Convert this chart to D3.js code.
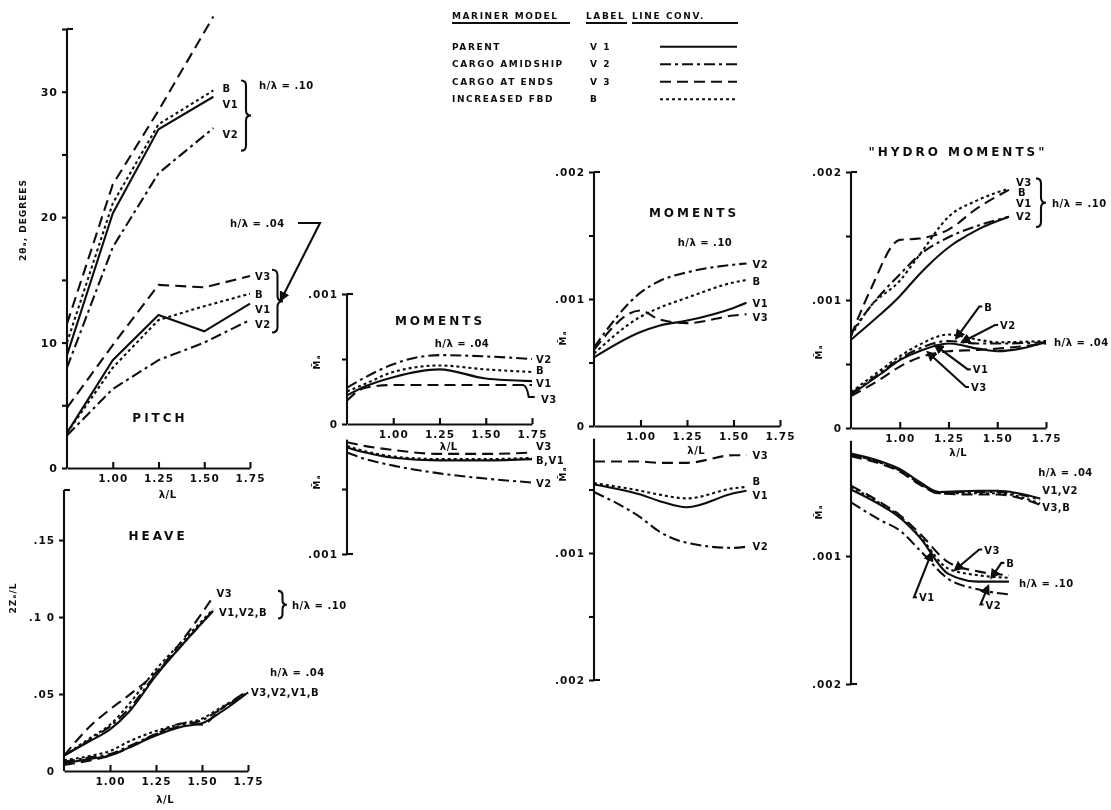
<!DOCTYPE html>
<html>
<head>
<meta charset="utf-8">
<title>Mariner model - pitch, heave and moments</title>
<script src="https://d3js.org/d3.v7.min.js"></script>
<style>
  body { margin: 0; background: #fff; }
  svg text { font-family: "DejaVu Sans", sans-serif; font-weight: bold; fill: #111; }
  .tick text { font-size: 10.5px; letter-spacing: 1px; }
  .ax path, .ax line, .lead { stroke: #111; stroke-width: 2.1; fill: none; }
  .ln { fill: none; stroke: #111; stroke-width: 2.1; }
  .lbl { font-size: 10px; letter-spacing: 0.5px; }
  .ttl { font-size: 12px; letter-spacing: 3px; }
  .leg { font-size: 9px; letter-spacing: 1.6px; }
</style>
</head>
<body>
<svg id="chart" width="1111" height="810">
  <defs>
    <filter id="scan"><feGaussianBlur stdDeviation="0.45"></feGaussianBlur></filter>
    <marker id="arrow" viewBox="0 0 8 8" refX="1" refY="4" markerWidth="5" markerHeight="5" orient="auto-start-reverse">
      <path d="M0,0 L8,4 L0,8 z" fill="#111"></path>
    </marker>
  </defs>
</svg>
<script>
// ---- data ----
const models = ["V1", "V2", "V3", "B"];
const legendNames = ["PARENT", "CARGO AMIDSHIP", "CARGO AT ENDS", "INCREASED FBD"];
const legendLabels = ["V 1", "V 2", "V 3", "B"];
const xTicks = [1.00, 1.25, 1.50, 1.75];

// pitch, 2θa in degrees
const pitchLam10 = [0.75, 1.00, 1.25, 1.55];
const pitch10 = { V1: [9.0, 20.3, 27.0, 29.6], V2: [8.0, 17.6, 23.5, 27.1], V3: [11.5, 22.6, 28.5, 36.0], B: [10.0, 21.1, 27.4, 30.1] };
const pitchLam04 = [0.75, 1.00, 1.25, 1.50, 1.75];
const pitch04 = { V1: [2.8, 8.6, 12.2, 10.9, 13.1], V2: [2.6, 6.3, 8.6, 10.0, 11.8], V3: [4.8, 9.8, 14.6, 14.4, 15.3], B: [2.8, 8.0, 11.8, 12.9, 13.9] };

// heave, 2Za/L
const heaveLam10 = [0.75, 0.90, 1.00, 1.10, 1.25, 1.40, 1.56];
const heave10 = {
  V1: [0.010, 0.020, 0.027, 0.038, 0.062, 0.083, 0.104],
  V2: [0.010, 0.021, 0.029, 0.040, 0.063, 0.083, 0.104],
  V3: [0.010, 0.030, 0.040, 0.049, 0.064, 0.086, 0.113],
  B:  [0.010, 0.022, 0.030, 0.043, 0.066, 0.085, 0.105]
};
const heaveLam04 = [0.75, 0.90, 1.00, 1.10, 1.25, 1.40, 1.50, 1.60, 1.75];
const heave04 = {
  V1: [0.005, 0.008, 0.010, 0.015, 0.023, 0.029, 0.031, 0.038, 0.051],
  V2: [0.006, 0.009, 0.011, 0.016, 0.024, 0.030, 0.033, 0.040, 0.051],
  V3: [0.004, 0.007, 0.010, 0.015, 0.024, 0.031, 0.030, 0.040, 0.052],
  B:  [0.007, 0.010, 0.013, 0.019, 0.026, 0.031, 0.034, 0.041, 0.051]
};

// moments, h/λ = .04 (upper and lower halves)
const mom04Lam = [0.75, 0.85, 1.00, 1.25, 1.50, 1.75];
const mom04Up = {
  V1: [.00022, .00029, .00036, .00042, .00035, .00033],
  V2: [.00028, .00036, .00046, .00053, .00052, .00050],
  V3: [.00018, .00028, .00030, .00030, .00030, .00030],
  B:  [.00025, .00031, .00040, .00045, .00042, .00040]
};
const mom04Dn = {
  V1: [.00018, .00022, .00026, .00028, .00028, .00027],
  V2: [.00022, .00027, .00032, .00038, .00042, .00045],
  V3: [.00014, .00017, .00020, .00023, .00023, .00022],
  B:  [.00017, .00021, .00025, .00027, .00027, .00026]
};

// moments, h/λ = .10
const mom10Lam = [0.75, 1.00, 1.10, 1.25, 1.50, 1.57];
const mom10Up = {
  V1: [.00054, .00074, .00079, .00083, .00093, .00097],
  V2: [.00062, .00105, .00114, .00121, .00127, .00128],
  V3: [.00060, .00091, .00084, .00081, .00087, .00088],
  B:  [.00057, .00086, .00093, .00101, .00113, .00115]
};
const mom10Dn = {
  V1: [.00046, .00054, .00059, .00064, .00053, .00051],
  V2: [.00052, .00072, .00083, .00092, .00096, .00095],
  V3: [.00028, .00028, .00029, .00029, .00023, .00023],
  B:  [.00045, .00051, .00054, .00057, .00049, .00048]
};

// "hydro moments"
const hydro10Lam = [0.75, 0.85, 1.00, 1.10, 1.25, 1.40, 1.56];
const hydro10Up = {
  V1: [.00069, .00082, .00103, .00120, .00141, .00155, .00165],
  V2: [.00074, .00095, .00120, .00135, .00149, .00158, .00165],
  V3: [.00072, .00108, .00147, .00148, .00155, .00172, .00186],
  B:  [.00072, .00095, .00115, .00135, .00165, .00178, .00187]
};
const hydro04Lam = [0.75, 0.90, 1.00, 1.10, 1.25, 1.40, 1.50, 1.75];
const hydro04Up = {
  V1: [.00026, .00042, .00053, .00060, .00066, .00062, .00060, .00067],
  V2: [.00027, .00043, .00054, .00062, .00068, .00066, .00066, .00067],
  V3: [.00025, .00038, .00048, .00055, .00060, .00061, .00062, .00066],
  B:  [.00028, .00045, .00056, .00065, .00073, .00069, .00067, .00068]
};
const hydro04DnLam = [0.75, 0.90, 1.00, 1.10, 1.20, 1.40, 1.50, 1.72];
const hydro04Dn = {
  V1: [.00020, .00026, .00032, .00042, .00050, .00049, .00049, .00055],
  V2: [.00021, .00027, .00033, .00043, .00050, .00050, .00050, .00056],
  V3: [.00022, .00028, .00034, .00044, .00051, .00052, .00052, .00060],
  B:  [.00021, .00027, .00033, .00043, .00051, .00051, .00051, .00059]
};
const hydro10DnLam = [0.75, 0.90, 1.00, 1.10, 1.25, 1.40, 1.56];
const hydro10Dn = {
  V1: [.00048, .00060, .00070, .00085, .00114, .00120, .00120],
  V2: [.00058, .00072, .00080, .00095, .00118, .00126, .00130],
  V3: [.00045, .00058, .00068, .00082, .00105, .00112, .00115],
  B:  [.00046, .00059, .00069, .00084, .00110, .00115, .00117]
};

// ---- drawing ----
const svg = d3.select("#chart");
const root = svg.append("g").attr("filter", "url(#scan)");
const dash = { V1: null, V2: "11,4,3,4", V3: "11,6", B: "3,3" };
const fmtX = d3.format(".2f");

function xAxis(x, y0, labelY) {
  const g = root.append("g").attr("class", "ax").attr("transform", `translate(0,${y0})`)
    .call(d3.axisBottom(x).tickValues(xTicks).tickSize(-6).tickSizeOuter(0).tickPadding(7).tickFormat(fmtX));
  root.append("text").attr("class", "lbl").attr("x", x(1.3)).attr("y", labelY)
    .attr("text-anchor", "middle").text("λ/L");
  return g;
}

function yAxis(y, x0, ticks, labels, from, cap) {
  const g = root.append("g").attr("class", "ax").attr("transform", `translate(${x0},0)`)
    .call(d3.axisLeft(y).tickValues(ticks).tickSize(5).tickPadding(4).tickFormat((d, i) => labels[i]));
  g.select(".domain").remove();
  g.append("line").attr("y1", y(from)).attr("y2", y(cap));
  g.append("line").attr("y1", y(cap)).attr("y2", y(cap)).attr("x2", 6);
  return g;
}

function series(x, y, lam, data, curve) {
  const line = d3.line().x((d, i) => x(lam[i])).y(d => y(d)).curve(curve || d3.curveMonotoneX);
  models.forEach(m => {
    root.append("path").attr("class", "ln").attr("stroke-dasharray", dash[m]).attr("d", line(data[m]));
  });
}

function label(x, y, l, v, dx, dy, t, cls) {
  root.append("text").attr("class", cls || "lbl").attr("x", x(l) + dx).attr("y", y(v) + dy).text(t);
}

function leader(x, y, l, v, dx, dy, t) {
  const ax = x(l), ay = y(v);
  root.append("path").attr("class", "lead").attr("stroke-width", 1.4)
    .attr("marker-start", "url(#arrow)")
    .attr("d", `M${ax + (dx > 0 ? 2 : -2)},${ay + (dy > 0 ? 2 : -2)} L${ax + dx - 3},${ay + dy - 4} h3`);
  root.append("text").attr("class", "lbl").attr("x", ax + dx + 2).attr("y", ay + dy).text(t);
}

function brace(x, y1, y2, w) {
  const m = (y1 + y2) / 2, h = w / 2;
  root.append("path").attr("class", "lead").attr("stroke-width", 1.7)
    .attr("d", `M${x},${y1} q${h},0 ${h},${h} V${m - h} q0,${h} ${h},${h} q${-h},0 ${-h},${h} V${y2 - h} q0,${h} ${-h},${h}`);
}

function rotLabel(x, y, t, size) {
  root.append("text").attr("transform", `translate(${x},${y}) rotate(-90)`)
    .attr("text-anchor", "middle").style("font-size", size + "px").style("letter-spacing", "1px").text(t);
}

// ---- PITCH ----
{
  const x = d3.scaleLinear([0.75, 1.75], [67, 250]);
  const y = d3.scaleLinear([0, 35], [468, 29]);
  yAxis(y, x(0.75), [0, 5, 10, 15, 20, 25, 30, 35], ["0", "", "10", "", "20", "", "30", ""], 0, 35)
    .selectAll(".tick text").style("font-size", "11px");
  xAxis(x, y(0), 498);
  series(x, y, pitchLam10, pitch10, d3.curveLinear);
  series(x, y, pitchLam04, pitch04, d3.curveLinear);
  rotLabel(26, 220, "2θₐ, DEGREES", 9);
  root.append("text").attr("class", "ttl").attr("x", 160).attr("y", 422).attr("text-anchor", "middle").text("PITCH");
  // h/λ = .10 labels
  label(x, y, 1.55, 30.1, 9, 2, "B");
  label(x, y, 1.55, 29.6, 9, 11, "V1");
  label(x, y, 1.55, 27.1, 9, 10, "V2");
  brace(241, y(30.9), y(25.3), 10);
  root.append("text").attr("class", "lbl").attr("x", 259).attr("y", y(30.2)).text("h/λ = .10");
  // h/λ = .04 labels
  label(x, y, 1.75, 15.3, 5, 4, "V3");
  label(x, y, 1.75, 13.9, 5, 4, "B");
  label(x, y, 1.75, 13.1, 5, 9, "V1");
  label(x, y, 1.75, 11.8, 5, 8, "V2");
  brace(272, y(15.8), y(10.8), 11);
  root.append("text").attr("class", "lbl").attr("x", 230).attr("y", 227).text("h/λ = .04");
  root.append("path").attr("class", "lead").attr("stroke-width", 1.4).attr("marker-end", "url(#arrow)")
    .attr("d", `M298,223 H320 L${284},${y(13.4) - 6}`);
}

// ---- HEAVE ----
{
  const x = d3.scaleLinear([0.75, 1.75], [64, 248]);
  const y = d3.scaleLinear([0, 0.1825], [771, 490]);
  yAxis(y, x(0.75), [0, 0.05, 0.10, 0.15], ["0", ".05", ".1 0", ".15"], 0, 0.1825)
    .call(g => g.select("line:last-of-type").remove());
  xAxis(x, y(0), 803);
  series(x, y, heaveLam10, heave10);
  series(x, y, heaveLam04, heave04);
  rotLabel(16, 598, "2Zₐ/L", 9);
  root.append("text").attr("class", "ttl").attr("x", 158).attr("y", 540).attr("text-anchor", "middle").text("HEAVE");
  label(x, y, 1.53, 0.113, 9, 0, "V3");
  label(x, y, 1.56, 0.104, 6, 5, "V1,V2,B");
  brace(278, y(0.117), y(0.099), 9);
  root.append("text").attr("class", "lbl").attr("x", 292).attr("y", y(0.108) + 4).text("h/λ = .10");
  label(x, y, 1.75, 0.051, 22, -16, "h/λ = .04");
  label(x, y, 1.75, 0.051, 3, 4, "V3,V2,V1,B");
}

// ---- MOMENTS h/λ = .04 ----
{
  const x = d3.scaleLinear([0.75, 1.75], [347, 532]);
  const yUp = d3.scaleLinear([0, 0.001], [424, 294]);
  const yDn = d3.scaleLinear([0, 0.001], [424, 554]);
  yAxis(yUp, x(0.75), [0, 0.0005, 0.001], ["0", "", ".001"], 0, 0.001);
  yAxis(yDn, x(0.75), [0.0005, 0.001], ["", ".001"], 0.00012, 0.001);
  xAxis(x, yUp(0), 450);
  series(x, yUp, mom04Lam, mom04Up);
  series(x, yDn, mom04Lam, mom04Dn);
  rotLabel(320, 362, "M̄ₐ", 9);
  rotLabel(320, 482, "M̄ₐ", 9);
  root.append("text").attr("class", "ttl").attr("x", 440).attr("y", 325).attr("text-anchor", "middle").text("MOMENTS");
  root.append("text").attr("class", "lbl").attr("x", 462).attr("y", 347).attr("text-anchor", "middle").text("h/λ = .04");
  label(x, yUp, 1.75, .00050, 4, 4, "V2");
  label(x, yUp, 1.75, .00040, 4, 2, "B");
  label(x, yUp, 1.75, .00033, 4, 6, "V1");
  label(x, yUp, 1.75, .00030, 9, 18, "V3");
  root.append("path").attr("class", "lead").attr("stroke-width", 1.5)
    .attr("d", `M${x(1.70)},${yUp(.0003)} q4,0 6,12 h6`);
  label(x, yDn, 1.75, .00022, 4, -3, "V3");
  label(x, yDn, 1.75, .00027, 4, 5, "B,V1");
  label(x, yDn, 1.75, .00045, 4, 4, "V2");
}

// ---- MOMENTS h/λ = .10 ----
{
  const x = d3.scaleLinear([0.75, 1.75], [594, 780]);
  const yUp = d3.scaleLinear([0, 0.002], [426, 172]);
  const yDn = d3.scaleLinear([0, 0.002], [426, 680]);
  yAxis(yUp, x(0.75), [0, 0.0005, 0.001, 0.0015, 0.002], ["0", "", ".001", "", ".002"], 0, 0.002);
  yAxis(yDn, x(0.75), [0.0005, 0.001, 0.0015, 0.002], ["", ".001", "", ".002"], 0.0001, 0.002);
  xAxis(x, yUp(0), 454);
  series(x, yUp, mom10Lam, mom10Up);
  series(x, yDn, mom10Lam, mom10Dn);
  rotLabel(566, 338, "M̄ₐ", 9);
  rotLabel(566, 474, "M̄ₐ", 9);
  root.append("text").attr("class", "ttl").attr("x", 694).attr("y", 217).attr("text-anchor", "middle").text("MOMENTS");
  root.append("text").attr("class", "lbl").attr("x", 705).attr("y", 246).attr("text-anchor", "middle").text("h/λ = .10");
  label(x, yUp, 1.57, .00128, 6, 5, "V2");
  label(x, yUp, 1.57, .00115, 6, 5, "B");
  label(x, yUp, 1.57, .00097, 6, 4, "V1");
  label(x, yUp, 1.57, .00088, 6, 7, "V3");
  label(x, yDn, 1.57, .00023, 6, 4, "V3");
  label(x, yDn, 1.57, .00048, 6, -2, "B");
  label(x, yDn, 1.57, .00051, 6, 8, "V1");
  label(x, yDn, 1.57, .00095, 6, 3, "V2");
}

// ---- "HYDRO MOMENTS" ----
{
  const x = d3.scaleLinear([0.75, 1.75], [851, 1046]);
  const yUp = d3.scaleLinear([0, 0.002], [428, 172]);
  const yDn = d3.scaleLinear([0, 0.002], [428, 684]);
  yAxis(yUp, x(0.75), [0, 0.0005, 0.001, 0.0015, 0.002], ["0", "", ".001", "", ".002"], 0, 0.002);
  yAxis(yDn, x(0.75), [0.001, 0.002], [".001", ".002"], 0.0001, 0.002);
  xAxis(x, yUp(0), 456);
  series(x, yUp, hydro10Lam, hydro10Up);
  series(x, yUp, hydro04Lam, hydro04Up);
  series(x, yDn, hydro04DnLam, hydro04Dn);
  series(x, yDn, hydro10DnLam, hydro10Dn);
  rotLabel(822, 352, "M̄ₐ", 9);
  rotLabel(822, 512, "M̄ₐ", 9);
  root.append("text").attr("class", "ttl").attr("x", 958).attr("y", 156).attr("text-anchor", "middle")
    .text("\"HYDRO MOMENTS\"");
  // h/λ = .10, upper (labels stacked as in the figure)
  label(x, yUp, 1.56, .00186, 7, -4, "V3");
  label(x, yUp, 1.56, .00187, 9, 7, "B");
  label(x, yUp, 1.56, .00165, 7, -10, "V1");
  label(x, yUp, 1.56, .00165, 7, 3, "V2");
  brace(1036, yUp(.00195), yUp(.00157), 10);
  root.append("text").attr("class", "lbl").attr("x", 1052).attr("y", yUp(.00176) + 4).text("h/λ = .10");
  // h/λ = .04, upper
  label(x, yUp, 1.75, .00067, 8, 4, "h/λ = .04");
  leader(x, yUp, 1.30, .00073, 24, -24, "B");
  leader(x, yUp, 1.34, .00068, 32, -12, "V2");
  leader(x, yUp, 1.20, .00063, 32, 26, "V1");
  leader(x, yUp, 1.16, .00057, 38, 36, "V3");
  // h/λ = .04, lower
  label(x, yDn, 1.72, .00055, -2, -22, "h/λ = .04");
  label(x, yDn, 1.72, .00055, 2, -4, "V1,V2");
  label(x, yDn, 1.72, .00060, 2, 6, "V3,B");
  // h/λ = .10, lower
  leader(x, yDn, 1.30, .00109, 24, -14, "V3");
  leader(x, yDn, 1.48, .00114, 11, -7, "B");
  label(x, yDn, 1.56, .00120, 10, 5, "h/λ = .10");
  leader(x, yDn, 1.16, .00101, -14, 44, "V1");
  leader(x, yDn, 1.45, .00127, -4, 18, "V2");
}

// ---- legend ----
{
  const rows = d3.scaleBand().domain(models).range([38, 108]);
  const heads = [["MARINER MODEL", 452, 570], ["LABEL", 586, 627], ["LINE CONV.", 632, 738]];
  heads.forEach(h => {
    root.append("text").attr("class", "leg").attr("x", h[1]).attr("y", 19).text(h[0]);
    root.append("line").attr("class", "lead").attr("stroke-width", 1.4)
      .attr("x1", h[1]).attr("x2", h[2]).attr("y1", 23).attr("y2", 23);
  });
  models.forEach((m, i) => {
    const cy = rows(m) + rows.bandwidth() / 2;
    root.append("text").attr("class", "leg").attr("x", 452).attr("y", cy + 3).text(legendNames[i]);
    root.append("text").attr("class", "leg").attr("x", 590).attr("y", cy + 3).text(legendLabels[i]);
    root.append("line").attr("class", "ln").attr("stroke-dasharray", dash[m])
      .attr("x1", 660).attr("x2", 737).attr("y1", cy).attr("y2", cy);
  });
}
</script>
</body>
</html>
